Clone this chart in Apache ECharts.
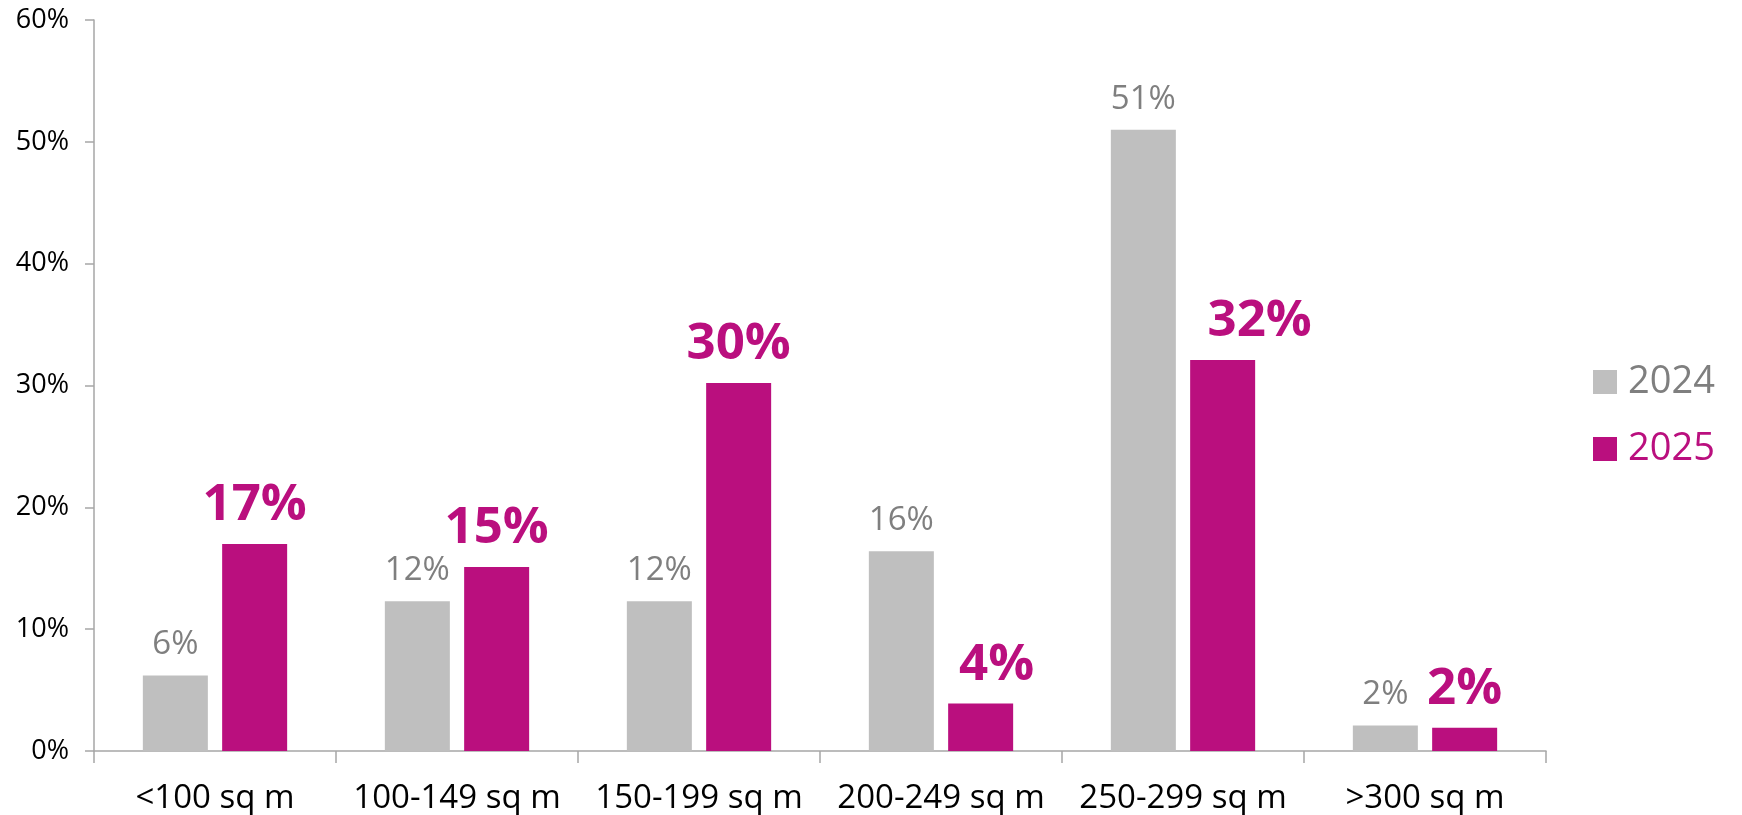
<!DOCTYPE html>
<html>
<head>
<meta charset="utf-8">
<script src="https://cdn.jsdelivr.net/npm/echarts@6/dist/echarts.min.js"></script>
<style>
html,body{margin:0;padding:0;background:#fff;}
#chart{width:1742px;height:815px;}
</style>
</head>
<body>
<div id="chart"></div>
<script>
const categories = ['<100 sq m', '100-149 sq m', '150-199 sq m', '200-249 sq m', '250-299 sq m', '>300 sq m'];
const values2024 = [6.2, 12.3, 12.3, 16.4, 51.0, 2.1];
const values2025 = [17.0, 15.1, 30.2, 3.9, 32.1, 1.9];
const seriesNames = ['2024', '2025'];
const yTicks = [0, 10, 20, 30, 40, 50, 60];

const GRAY = '#bfbfbf';
const GRAY_TEXT = '#7f7f7f';
const MAGENTA = '#ba0f7e';
const FONT = '"Open Sans", "Noto Sans", sans-serif';

// label offsets (styling only) for manually moved labels in the source
const label2025Offsets = {3: [16, 0], 4: [37, 0]};

const chart = echarts.init(document.getElementById('chart'), null, {renderer: 'canvas'});

const fmt = p => Math.round(p.value) + '%';

chart.setOption({
  animation: false,
  backgroundColor: '#ffffff',
  grid: {left: 94, right: 196, top: 20, bottom: 64, containLabel: false},
  legend: {
    orient: 'vertical',
    left: 1588,
    top: 358,
    itemWidth: 24,
    itemHeight: 24,
    itemGap: 29,
    icon: 'rect',
    textStyle: {fontFamily: FONT, fontSize: 38, padding: [0, 0, 0, 6]},
    data: [
      {name: seriesNames[0], textStyle: {color: GRAY_TEXT}},
      {name: seriesNames[1], textStyle: {color: MAGENTA}}
    ]
  },
  xAxis: {
    type: 'category',
    data: categories,
    boundaryGap: true,
    axisLine: {show: true, lineStyle: {color: '#a6a6a6', width: 1.5}},
    axisTick: {show: true, length: 12, alignWithLabel: false, lineStyle: {color: '#a6a6a6', width: 1.5}},
    axisLabel: {color: '#000', fontFamily: FONT, fontSize: 33, margin: 31, interval: 0}
  },
  yAxis: {
    type: 'value',
    min: yTicks[0],
    max: yTicks[yTicks.length - 1],
    interval: 10,
    splitLine: {show: false},
    axisLine: {show: true, lineStyle: {color: '#a6a6a6', width: 1.5}},
    axisTick: {show: true, length: 9, lineStyle: {color: '#a6a6a6', width: 1.5}},
    axisLabel: {color: '#000', fontFamily: FONT, fontSize: 27, margin: 25, formatter: v => v + '%'}
  },
  series: [
    {
      name: seriesNames[0],
      type: 'bar',
      data: values2024,
      barWidth: 65,
      barGap: '22%',
      itemStyle: {color: GRAY},
      label: {show: true, position: 'top', distance: 14, formatter: fmt, color: GRAY_TEXT, fontFamily: FONT, fontSize: 33}
    },
    {
      name: seriesNames[1],
      type: 'bar',
      data: values2025.map((v, i) => label2025Offsets[i] ? {value: v, label: {offset: label2025Offsets[i]}} : v),
      barWidth: 65,
      barGap: '22%',
      itemStyle: {color: MAGENTA},
      label: {show: true, position: 'top', distance: 13, formatter: fmt, color: MAGENTA, fontFamily: FONT, fontSize: 51, fontWeight: 'bold'}
    }
  ]
});
</script>
</body>
</html>
